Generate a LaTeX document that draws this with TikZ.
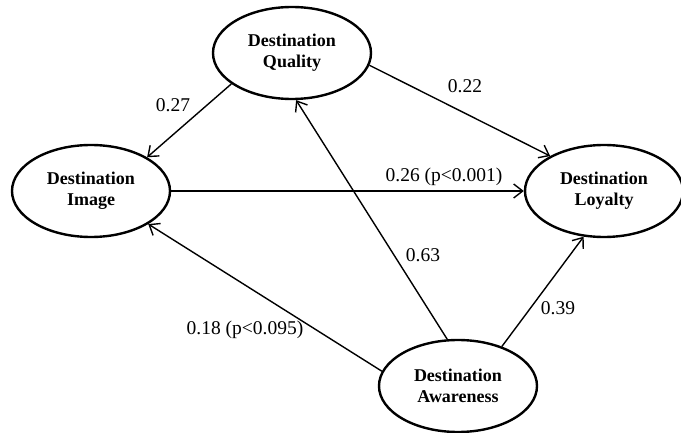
\documentclass[tikz,border=0pt]{standalone}
\usepackage{fontspec}
\setmainfont{Liberation Serif}
\usepackage{tikz}
\usetikzlibrary{shapes,arrows.meta}
\usetikzlibrary{shapes.geometric}

\tikzset{
    construct/.style={ellipse, draw, line width=2.4pt, minimum width=158pt,
        minimum height=92pt, inner sep=0pt, align=center,
        font=\fontsize{18}{21}\selectfont\bfseries},
    path/.style={line width=1.4pt, -{Straight Barb[length=9pt,width=14pt,line width=1.4pt]}},
    coef/.style={font=\fontsize{19.5}{22}\selectfont}
}

\begin{document}
\begin{tikzpicture}[x=1pt,y=1pt]
    \useasboundingbox (0,0) rectangle (681,432);

    % THE FOUR CONSTRUCTS
    \foreach \n/\x/\y/\m in {
        Q/292/379/Quality,
        I/91/241/Image,
        L/604/241/Loyalty,
        A/458/46/Awareness}
        \node[construct] (\n) at (\x,\y) {Destination\\\m};

    % PATHS
    \foreach \a/\b in {
        Q.207/I.31,   %   quality -> image
        Q.-9/L.147,   %   quality -> loyalty
        I.east/L.west, %  image -> loyalty
        A.103/Q.-85,  %   awareness -> quality
        A.42/L.246,   %   awareness -> loyalty
        A.169/I.-30}  %   awareness -> image
        \draw[path] (\a) -- (\b);

    % PATH COEFFICIENTS
    \foreach \x/\y/\m in {
        173/327/{0.27},
        465/346/{0.22},
        444/255/{0.26 (p<0.001)},
        423/177/{0.63},
        558/124/{0.39},
        245/102/{0.18 (p<0.095)}}
        \node[coef] at (\x,\y) {\m};

\end{tikzpicture}
\end{document}
